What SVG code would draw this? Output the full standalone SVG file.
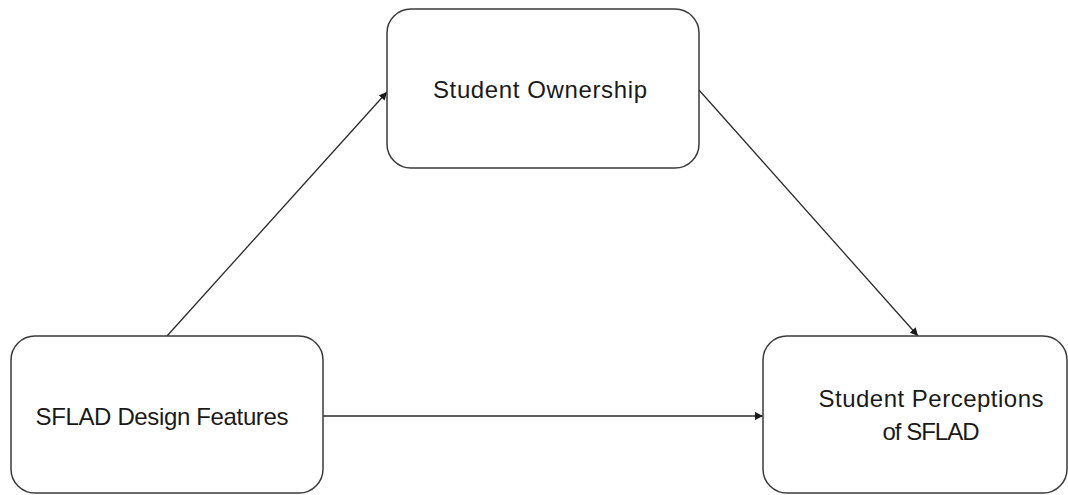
<svg xmlns="http://www.w3.org/2000/svg" width="1068" height="495" viewBox="0 0 1068 495">
  <style>
    .box { fill: #ffffff; stroke: #3a3a3a; stroke-width: 1.5; }
    .label { font-family: "Liberation Sans", Arial, sans-serif; font-size: 24px; fill: #1a1a1a; text-anchor: middle; }
    .link { stroke: #2a2a2a; stroke-width: 1.3; fill: none; marker-end: url(#head); }
  </style>
  <defs>
    <marker id="head" viewBox="0 0 10 10" refX="10" refY="5" markerWidth="8" markerHeight="8" markerUnits="userSpaceOnUse" orient="auto">
      <path d="M0,0 L10,5 L0,10 z" fill="#1a1a1a"/>
    </marker>
  </defs>
  <rect width="1068" height="495" fill="#ffffff"/>

  <g id="connectors">
    <line class="link" x1="167" y1="336" x2="387" y2="92"/>
    <line class="link" x1="699" y1="90" x2="918" y2="336"/>
    <line class="link" x1="323" y1="416" x2="763" y2="416"/>
  </g>

  <g id="node-ownership">
    <rect class="box" x="387" y="9" width="312" height="159" rx="24" ry="24"/>
    <text class="label" x="540" y="98" textLength="214" lengthAdjust="spacing">Student Ownership</text>
  </g>

  <g id="node-design">
    <rect class="box" x="11" y="336" width="312" height="157" rx="24" ry="24"/>
    <text class="label" x="162" y="425" textLength="253" lengthAdjust="spacing">SFLAD Design Features</text>
  </g>

  <g id="node-perceptions">
    <rect class="box" x="763" y="336" width="304" height="157" rx="24" ry="24"/>
    <text class="label" x="931" y="407" textLength="225" lengthAdjust="spacing">Student Perceptions</text>
    <text class="label" x="931" y="440" textLength="97" lengthAdjust="spacing">of SFLAD</text>
  </g>
</svg>
